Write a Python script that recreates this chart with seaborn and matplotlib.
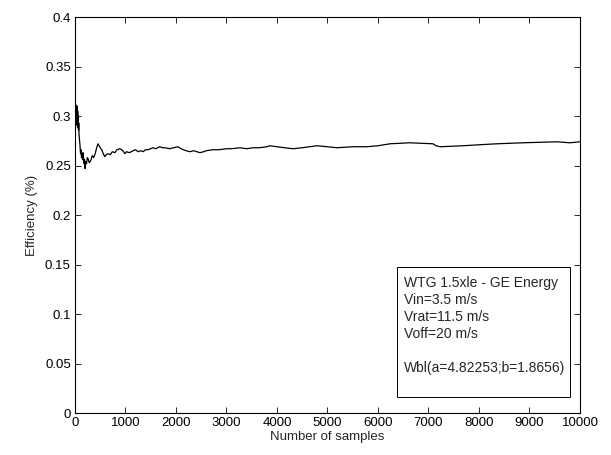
import matplotlib
matplotlib.use("Agg")
import matplotlib.pyplot as plt
from matplotlib.patches import Rectangle
import seaborn as sns
import pandas as pd

samples = [1, 5, 10, 15, 20, 25, 30, 35, 40, 45, 50, 55, 60, 65, 70, 75, 80, 90, 100, 110,
           120, 130, 140, 150, 160, 170, 180, 190, 200, 215, 230, 245, 260, 280, 300, 320,
           340, 370, 400, 430, 455, 480, 500, 530, 560, 590, 620, 650, 700, 740, 790, 830,
           890, 950, 990, 1020, 1080, 1150, 1200, 1250, 1300, 1350, 1400, 1450, 1545, 1600,
           1680, 1730, 1780, 1880, 1950, 2040, 2100, 2150, 2200, 2280, 2350, 2475, 2550,
           2600, 2730, 2850, 3000, 3100, 3270, 3400, 3530, 3650, 3800, 3860, 4000, 4150,
           4320, 4500, 4790, 5000, 5190, 5500, 5780, 6000, 6240, 6630, 7090, 7150, 7230,
           7680, 8000, 8360, 8870, 9540, 9800, 10000]
efficiency = [0.299, 0.306, 0.292, 0.309, 0.297, 0.311, 0.291, 0.308, 0.294, 0.310, 0.290,
              0.305, 0.288, 0.300, 0.286, 0.293, 0.282, 0.276, 0.270, 0.262, 0.266, 0.258,
              0.262, 0.256, 0.263, 0.258, 0.252, 0.256, 0.247, 0.254, 0.252, 0.258, 0.257,
              0.253, 0.254, 0.256, 0.260, 0.258, 0.262, 0.268, 0.272, 0.270, 0.268, 0.266,
              0.262, 0.259, 0.261, 0.262, 0.261, 0.264, 0.263, 0.266, 0.267, 0.265, 0.262,
              0.264, 0.263, 0.265, 0.266, 0.264, 0.265, 0.264, 0.266, 0.266, 0.268, 0.267,
              0.269, 0.268, 0.268, 0.267, 0.268, 0.269, 0.267, 0.266, 0.265, 0.264, 0.265,
              0.263, 0.264, 0.265, 0.266, 0.266, 0.267, 0.267, 0.268, 0.267, 0.268, 0.268,
              0.269, 0.270, 0.269, 0.268, 0.267, 0.268, 0.270, 0.269, 0.268, 0.269, 0.269,
              0.270, 0.272, 0.273, 0.272, 0.270, 0.269, 0.270, 0.271, 0.272, 0.273, 0.274,
              0.273, 0.274]

x_ticks = list(range(0, 10001, 1000))
y_ticks = [0, 0.05, 0.1, 0.15, 0.2, 0.25, 0.3, 0.35, 0.4]
y_labels = ["0", "0.05", "0.1", "0.15", "0.2", "0.25", "0.3", "0.35", "0.4"]
info_lines = ["WTG 1.5xle - GE Energy", "Vin=3.5 m/s", "Vrat=11.5 m/s", "Voff=20 m/s", "",
              "Wbl(a=4.82253;b=1.8656)"]

sns.set_theme(style="white")
plt.rcParams["font.family"] = ["Liberation Sans", "DejaVu Sans"]

df = pd.DataFrame({"samples": samples, "efficiency": efficiency})

fig = plt.figure(figsize=(6.11, 4.55), dpi=100)
ax = fig.add_axes([0.1227, 0.092, 0.8265, 0.8706])
sns.lineplot(data=df, x="samples", y="efficiency", ax=ax, color="black", linewidth=0.9)

ax.set_xlim(0, 10000)
ax.set_ylim(0, 0.4)
ax.set_xticks(x_ticks)
ax.set_xticklabels([str(t) for t in x_ticks])
ax.set_yticks(y_ticks)
ax.set_yticklabels(y_labels)
ax.tick_params(direction="in", top=True, right=True, bottom=True, left=True,
               length=4, width=0.6, labelsize=9.5, colors="black", pad=3)
for s in ax.spines.values():
    s.set_visible(True)
    s.set_color("black")
    s.set_linewidth(0.8)
ax.set_xlabel("Number of samples", fontsize=9.5, labelpad=1)
ax.set_ylabel("Efficiency (%)", fontsize=9.5, labelpad=5)

ax.add_patch(Rectangle((0.638, 0.04), 0.342, 0.329, transform=ax.transAxes,
                       facecolor="white", edgecolor="black", linewidth=0.7, zorder=3))
ax.text(0.652, 0.346, "\n".join(info_lines), transform=ax.transAxes, fontsize=10,
        va="top", ha="left", linespacing=1.28, zorder=4)

fig.savefig("out.png", dpi=100)
